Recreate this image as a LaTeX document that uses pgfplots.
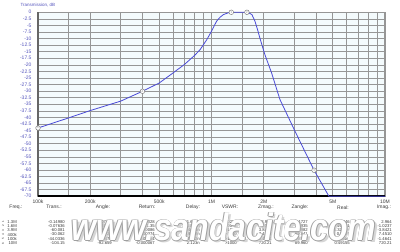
\documentclass[border=0pt]{standalone}
\usepackage{fontspec}
\setmainfont{Liberation Sans}
\usepackage{pgfplots}
\pgfplotsset{compat=1.18}
\usepackage{pgfplotstable}
\definecolor{curve}{RGB}{75,75,215}
\definecolor{lblue}{RGB}{85,85,190}
\definecolor{gridc}{RGB}{150,150,150}
\definecolor{band}{RGB}{214,226,230}
\definecolor{bgc}{RGB}{244,251,253}
\definecolor{txt}{RGB}{60,60,60}
\pgfplotstableread{
f y
1e5 -44.03
1.5e5 -40.2
2e5 -37.4
3e5 -33.8
4e5 -30.06
5e5 -26.9
6e5 -23.1
7e5 -19.8
8e5 -16.4
8.6e5 -14.2
9.4e5 -10.4
1.0e6 -7.2
1.07e6 -3.4
1.12e6 -1.9
1.17e6 -0.9
1.25e6 -0.2
1.3e6 0
1.45e6 0
1.6e6 0
1.65e6 -0.3
1.71e6 -0.9
1.78e6 -3.4
1.85e6 -7.0
1.9e6 -9.8
2.03e6 -16.1
2.22e6 -23.1
2.48e6 -33.2
3.03e6 -45.3
3.9e6 -60.1
4.75e6 -70
1e7 -70
}\curvedata
\pgfplotstableread{
f y l
1.3e6 0 1
1.6e6 0 2
3.9e6 -60.1 3
4e5 -30.06 4
1e5 -44.03 5
}\markdata
\begin{document}
\begin{tikzpicture}[x=1pt,y=1pt]
\fill[white] (0,0) rectangle (400,250);
\begin{axis}[
 at={(38pt,55pt)}, anchor=south west, scale only axis, width=347pt, height=184pt,
 xmode=log, xmin=1e5, xmax=1e7, ymin=-70, ymax=0,
 axis background/.style={fill=bgc},
 clip=false,
 xtick={1e5,2e5,5e5,1e6,2e6,5e6,1e7},
 xticklabels={100k,200k,500k,1M,2M,5M,10M},
 minor xtick={1.5e5,4e5,6e5,7e5,8e5,9e5,1.5e6,4e6,6e6,7e6,8e6},
 extra x ticks={3e5,3e6,9e6}, extra x tick labels={},
 extra x tick style={grid style={band, line width=2.5pt}},
 ytick={-70,-67.5,-65,-62.5,-60,-57.5,-55,-52.5,-50,-47.5,-45,-42.5,-40,-37.5,-35,-32.5,-30,-27.5,-25,-22.5,-20,-17.5,-15,-12.5,-10,-7.5,-5,-2.5,0},
 grid=both, major grid style={gridc, line width=0.6pt}, minor grid style={gridc, line width=0.6pt},
 major tick length=0pt, minor tick length=0pt,
 axis line style={gridc, line width=1.2pt},
 tick label style={font=\fontsize{5}{5}\selectfont},
 yticklabel style={lblue, xshift=-3pt},
 xticklabel style={txt, yshift=0pt},
 yticklabel={\pgfmathprintnumber[fixed,precision=1,assume math mode=true]{\tick}},
]
\draw[line width=2pt, color=gray!80!black] (rel axis cs:0,0) -- (rel axis cs:0,1);
\draw[line width=1.8pt, black] (rel axis cs:0,0) -- (rel axis cs:1,0);
\addplot[curve, line width=0.8pt, no marks] table[x=f, y=y] {\curvedata};
\addplot[only marks, mark=*, mark size=2.3pt, mark options={fill=white, draw=gray, line width=0.5pt},
  point meta=explicit symbolic, nodes near coords,
  every node near coord/.append style={anchor=center, inner sep=0pt, font=\fontsize{2.8}{3}\selectfont, text=gray}]
  table[x=f, y=y, meta=l] {\markdata};
\end{axis}
\node[lblue, font=\fontsize{4.5}{5}\selectfont, anchor=west] at (17,246) {Transmission, dB};
% table
\begin{scope}[every node/.style={font=\fontsize{5}{5}\selectfont, text=txt, inner sep=0pt}]
\node at (16,44) {Freq.:};
\node at (54,44) {Trans.:};
\node at (103,44) {Angle:};
\node at (147,44) {Return:};
\node at (193,44) {Delay:};
\node at (230,44) {VSWR:};
\node at (266,44) {Zmag.:};
\node at (300,44) {Zangle:};
\node at (343,44) {Real:};
\node at (384,44) {Imag.:};
\end{scope}
\begin{scope}[every node/.style={font=\fontsize{4.2}{4.5}\selectfont, text=txt, inner sep=0pt, anchor=east}]
\foreach \r/\yy/\fr/\tr/\an/\re/\de/\vs/\zm/\za/\rl/\im in {
 1/29.5/1.3M/-0.14980/107.69/-38.028/1.653n/1.0254/48.937/3.4727/48.846/2.964,
 2/25.2/1.6M/-0.07636/-67.12/-41.35/1.886n/1.0172/49.152/-1.1935/49.141/-1.0237,
 3/21.0/3.9M/-60.081/43.518/-0.00086/0.4471n/>1000/3.8421/-89.982/1.3211m/-3.8421,
 4/16.7/400k/-30.062/94.726/-0.00374/1.9312n/>1000/7.4512/89.541/0.0597/7.4510,
 5/12.4/100k/-44.0336/96.478/-0.00064/1.912n/>1000/1.4641/-89.707/7.5084m/-1.4641,
 6/8.0/10M/-104.15/-92.659/-0.000067/2.123n/>1000/720.21/89.960/0.49155/720.21}{
 \node[anchor=center, font=\fontsize{3}{3}\selectfont, rotate=90] at (3,\yy) {\r};
 \node at (17,\yy) {\fr};
 \node at (65,\yy) {\tr};
 \node at (112,\yy) {\an};
 \node at (155,\yy) {\re};
 \node at (200,\yy) {\de};
 \node at (237,\yy) {\vs};
 \node at (272,\yy) {\zm};
 \node at (308,\yy) {\za};
 \node at (350,\yy) {\rl};
 \node at (392,\yy) {\im};
}
\end{scope}
% watermark
\newcommand{\wm}{\fontsize{32}{32}\selectfont\bfseries\itshape www.sandacite.com}
\node[text=gray!45, opacity=0.7, yscale=1.2, inner sep=0pt] at (226.5,22) {\wm};
\foreach \dx/\dy in {0.7/0,-0.7/0,0/0.7,0/-0.7}{
 \node[text=gray!75, yscale=1.2, inner sep=0pt] at (224+\dx,24+\dy) {\wm};
}
\node[text=white, yscale=1.2, inner sep=0pt] at (224,24) {\wm};
\end{tikzpicture}
\end{document}
